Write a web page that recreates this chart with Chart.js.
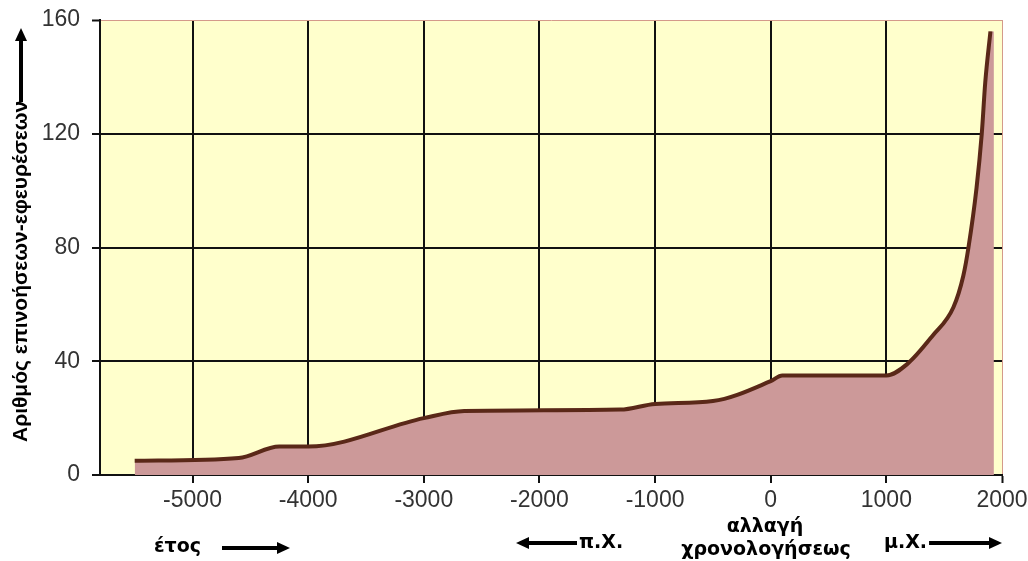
<!DOCTYPE html>
<html>
<head>
<meta charset="utf-8">
<script src="https://cdn.jsdelivr.net/npm/chart.js@4"></script>
<style>
  body { margin: 0; background: #fff; }
  canvas { display: block; }
</style>
</head>
<body>
<canvas id="chart" width="1028" height="561"></canvas>
<script>
// values
const years = [-5500, -4600, -4250, -4000, -3000, -2650, -1300, -1000, -500, 0, 100, 1000, 1180, 1400, 1580, 1665, 1710, 1780, 1825, 1855, 1900];
const values = [5, 6, 10, 10, 20, 22.5, 23, 25, 26, 33, 35, 35, 39, 49, 59, 70, 80, 101, 120, 138, 156];

// the shaded area runs a little past the line on the right
const areaYears = [...years, 1930];
const areaValues = [...values, 156];

const xTicks = [-5000, -4000, -3000, -2000, -1000, 0, 1000, 2000];
const yTicks = [0, 40, 80, 120, 160];

const yTitle = 'Αριθμός επινοήσεων-εφευρέσεων';

function toPoints(xs, ys) {
    return xs.map((x, i) => ({ x: x, y: ys[i] }));
}

function arrow(ctx, x1, y1, x2, y2) {
    const ang = Math.atan2(y2 - y1, x2 - x1);
    const head = 13;
    ctx.save();
    ctx.strokeStyle = '#000';
    ctx.fillStyle = '#000';
    ctx.lineWidth = 4;
    ctx.beginPath();
    ctx.moveTo(x1, y1);
    ctx.lineTo(x2 - head * 0.8 * Math.cos(ang), y2 - head * 0.8 * Math.sin(ang));
    ctx.stroke();
    ctx.translate(x2, y2);
    ctx.rotate(ang);
    ctx.beginPath();
    ctx.moveTo(0, 0);
    ctx.lineTo(-head, -6);
    ctx.lineTo(-head, 6);
    ctx.closePath();
    ctx.fill();
    ctx.restore();
}

const plotBackground = {
    id: 'plotBackground',
    beforeDraw(chart) {
        const a = chart.chartArea;
        const ctx = chart.ctx;
        ctx.save();
        ctx.fillStyle = '#ffffcc';
        ctx.fillRect(a.left, a.top, a.right - a.left, a.bottom - a.top);
        ctx.restore();
    }
};

const labels = {
    id: 'labels',
    afterDraw(chart) {
        const ctx = chart.ctx;
        ctx.save();
        ctx.fillStyle = '#000';
        ctx.textBaseline = 'middle';

        // vertical title
        ctx.save();
        ctx.font = 'bold 21px "Liberation Sans", Arial, sans-serif';
        ctx.translate(21, 442);
        ctx.rotate(-Math.PI / 2);
        ctx.textAlign = 'left';
        ctx.fillText(yTitle, 0, 0);
        ctx.restore();
        arrow(ctx, 21, 102, 21, 28);

        // bottom notes
        ctx.font = 'bold 19px "DejaVu Sans", sans-serif';
        ctx.textAlign = 'left';
        ctx.fillText('έτος', 154, 547);
        arrow(ctx, 222, 548, 290, 548);

        arrow(ctx, 577, 543, 516, 543);
        ctx.fillText('π.Χ.', 579, 543);

        ctx.textAlign = 'center';
        ctx.fillText('αλλαγή', 765, 527);
        ctx.fillText('χρονολογήσεως', 766, 550);

        ctx.textAlign = 'left';
        ctx.fillText('μ.Χ.', 884, 543);
        const w = ctx.measureText('μ.Χ.').width;
        arrow(ctx, 884 + w + 2, 543, 1002, 543);
        ctx.restore();
    }
};

new Chart(document.getElementById('chart'), {
    type: 'line',
    data: {
        datasets: [
            {
                data: toPoints(years, values),
                borderColor: '#5a2818',
                borderWidth: 4,
                pointRadius: 0,
                cubicInterpolationMode: 'monotone',
                fill: false,
                order: 1
            },
            {
                data: toPoints(areaYears, areaValues),
                borderWidth: 0,
                borderColor: 'rgba(0,0,0,0)',
                backgroundColor: '#cc9999',
                pointRadius: 0,
                cubicInterpolationMode: 'monotone',
                fill: 'origin',
                order: 2
            }
        ]
    },
    plugins: [plotBackground, labels],
    options: {
        responsive: false,
        animation: false,
        layout: { padding: { top: 20, right: 26, left: 0, bottom: 0 } },
        plugins: {
            legend: { display: false },
            tooltip: { enabled: false }
        },
        scales: {
            x: {
                type: 'linear',
                min: -5800,
                max: 2000,
                afterBuildTicks: s => { s.ticks = xTicks.map(v => ({ value: v })); },
                afterFit: s => { s.height = 86; s.paddingLeft = 0; s.paddingRight = 0; },
                border: { display: true, color: '#111', width: 2 },
                grid: {
                    color: c => c.tick && c.tick.value === 2000 ? '#d49a8a' : '#111',
                    lineWidth: c => c.tick && c.tick.value === 2000 ? 1 : 2,
                    tickColor: '#111',
                    tickLength: 8,
                    tickWidth: 2
                },
                ticks: {
                    color: '#333',
                    padding: 4,
                    maxRotation: 0,
                    callback: v => String(v),
                    font: { family: '"Liberation Sans", Arial, sans-serif', size: 23 }
                }
            },
            y: {
                min: 0,
                max: 160,
                afterBuildTicks: s => { s.ticks = yTicks.map(v => ({ value: v })); },
                afterFit: s => { s.width = 100; s.paddingTop = 0; s.paddingBottom = 0; },
                border: { display: true, color: '#111', width: 2 },
                grid: {
                    color: c => c.tick && c.tick.value === 160 ? '#d49a8a' : '#111',
                    lineWidth: c => c.tick && c.tick.value === 160 ? 1 : 2,
                    tickColor: '#111',
                    tickLength: 8,
                    tickWidth: 2
                },
                ticks: {
                    color: '#333',
                    padding: 12,
                    callback: v => String(v),
                    font: { family: '"Liberation Sans", Arial, sans-serif', size: 23 }
                }
            }
        }
    }
});
</script>
</body>
</html>
